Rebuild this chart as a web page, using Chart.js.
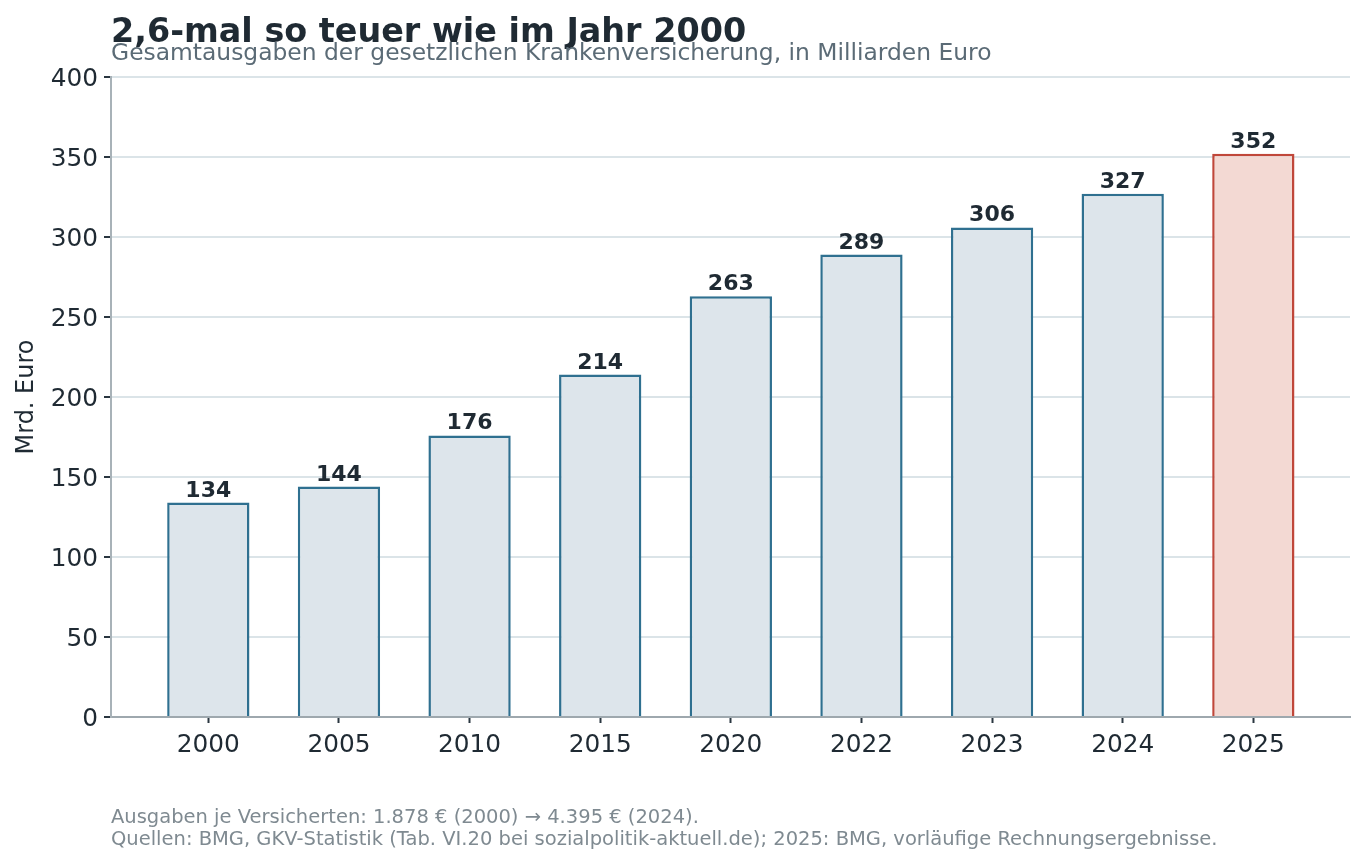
<!DOCTYPE html>
<html>
<head>
<meta charset="utf-8">
<script src="https://cdn.jsdelivr.net/npm/chart.js@4.4.0/dist/chart.umd.min.js"></script>
<style>
  body { margin: 0; background: #fff; font-family: "DejaVu Sans", sans-serif; }
  #wrap { position: relative; width: 1367px; height: 864px; }
  canvas { position: absolute; left: 0; top: 0; }
  .txt { position: absolute; left: 111px; white-space: nowrap; }
  #title { top: 11px; font-size: 33.4px; font-weight: bold; color: #1f2a33; }
  #subtitle { top: 38px; font-size: 23.4px; color: #5b6b76; }
  #foot1 { top: 805px; font-size: 19.5px; color: #7f8a91; }
  #foot2 { top: 827px; font-size: 19.5px; color: #7f8a91; }
</style>
</head>
<body>
<div id="wrap">
  <canvas id="myChart" width="1367" height="864"></canvas>
  <div class="txt" id="title">2,6-mal so teuer wie im Jahr 2000</div>
  <div class="txt" id="subtitle">Gesamtausgaben der gesetzlichen Krankenversicherung, in Milliarden Euro</div>
  <div class="txt" id="foot1">Ausgaben je Versicherten: 1.878 € (2000) → 4.395 € (2024).</div>
  <div class="txt" id="foot2">Quellen: BMG, GKV-Statistik (Tab. VI.20 bei sozialpolitik-aktuell.de); 2025: BMG, vorläufige Rechnungsergebnisse.</div>
</div>
<script>
const years = ["2000", "2005", "2010", "2015", "2020", "2022", "2023", "2024", "2025"];
const spending = [134, 144, 176, 214, 263, 289, 306, 327, 352];
const yTicks = [0, 50, 100, 150, 200, 250, 300, 350, 400];

const fillColors = years.map((y) => (y === "2025" ? "#f3d9d3" : "#dde5eb"));
const borderColors = years.map((y) => (y === "2025" ? "#c0473a" : "#2f7090"));

// value labels above the bars
const barLabels = {
  id: "barLabels",
  afterDatasetsDraw(chart) {
    const ctx = chart.ctx;
    const meta = chart.getDatasetMeta(0);
    ctx.save();
    ctx.font = "bold 22px 'DejaVu Sans'";
    ctx.fillStyle = "#1f2a33";
    ctx.textAlign = "center";
    ctx.textBaseline = "alphabetic";
    meta.data.forEach((bar, i) => {
      ctx.fillText(String(spending[i]), bar.x, bar.y - 6);
    });
    ctx.restore();
  },
};

const ctx = document.getElementById("myChart").getContext("2d");
const myChart = new Chart(ctx, {
  type: "bar",
  data: {
    datasets: [
      {
        data: spending.map((v, i) => ({ x: i, y: v })),
        backgroundColor: fillColors,
        borderColor: borderColors,
        borderWidth: 2.5,
        borderSkipped: "bottom",
        barPercentage: 0.63,
        categoryPercentage: 1,
      },
    ],
  },
  options: {
    responsive: false,
    animation: false,
    layout: { padding: { left: 0, right: 17, top: 77, bottom: 0 } },
    plugins: { legend: { display: false }, tooltip: { enabled: false } },
    scales: {
      x: {
        type: "linear",
        offset: false,
        min: -0.745,
        max: 8.74,
        afterBuildTicks: (scale) => {
          scale.ticks = years.map((y, i) => ({ value: i }));
        },
        afterFit: (scale) => {
          scale.height = 147;
        },
        ticks: {
          callback: (v) => years[v],
          font: { family: "DejaVu Sans", size: 24.8 },
          color: "#1f2a33",
          padding: 8,
        },
        grid: {
          offset: false,
          drawOnChartArea: false,
          drawTicks: true,
          tickLength: 6,
          tickColor: "#2a3640",
          tickWidth: 2,
        },
        border: { color: "#9ea8ae", width: 2 },
      },
      y: {
        min: 0,
        max: 400,
        afterBuildTicks: (scale) => {
          scale.ticks = yTicks.map((v) => ({ value: v }));
        },
        afterFit: (scale) => {
          scale.width = 111;
        },
        ticks: {
          font: { family: "DejaVu Sans", size: 24.8 },
          color: "#1f2a33",
          padding: 6,
          labelOffset: 3,
        },
        grid: {
          color: "#dbe4e8",
          lineWidth: 2,
          tickLength: 7,
          tickColor: "#2a3640",
          tickWidth: 2,
        },
        border: { color: "#a8b2b8", width: 2 },
        title: {
          display: true,
          text: "Mrd. Euro",
          font: { family: "DejaVu Sans", size: 24 },
          color: "#1f2a33",
          padding: { top: 12, bottom: 0 },
        },
      },
    },
  },
  plugins: [barLabels],
});
</script>
</body>
</html>
